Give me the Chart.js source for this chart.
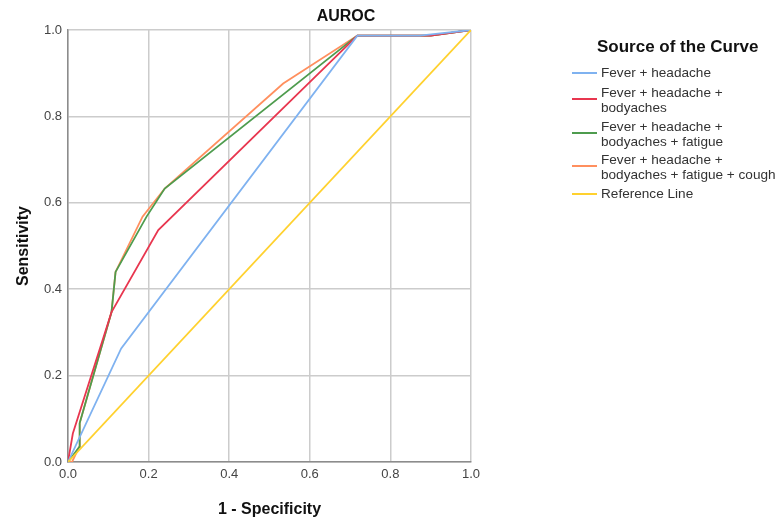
<!DOCTYPE html>
<html>
<head>
<meta charset="utf-8">
<script src="https://cdn.jsdelivr.net/npm/chart.js@4/dist/chart.umd.min.js"></script>
<style>
  html, body { margin: 0; padding: 0; background: #ffffff; }
  #wrap { width: 779px; height: 520px; position: relative; }
</style>
</head>
<body>
<div id="wrap"><canvas id="c" width="779" height="520"></canvas></div>
<script>
// ---- Data ----
const chartTitle = "AUROC";
const xAxisTitle = "1 - Specificity";
const yAxisTitle = "Sensitivity";
const legendTitle = "Source of the Curve";

const seriesNames = [
  "Fever + headache",
  "Fever + headache + bodyaches",
  "Fever + headache + bodyaches + fatigue",
  "Fever + headache + bodyaches + fatigue + cough",
  "Reference Line"
];
const legendLines = [
  ["Fever + headache"],
  ["Fever + headache +", "bodyaches"],
  ["Fever + headache +", "bodyaches + fatigue"],
  ["Fever + headache +", "bodyaches + fatigue + cough"],
  ["Reference Line"]
];
const seriesColors = ["#7FB2F0", "#E8364F", "#4E9C4E", "#FF8F5E", "#FFD12E"];

const headacheX = [0, 0.132, 0.718, 0.873, 1];
const headacheY = [0, 0.263, 0.987, 0.987, 1];

const bodyachesX = [0, 0.012, 0.108, 0.224, 0.718, 0.9, 1];
const bodyachesY = [0, 0.066, 0.347, 0.537, 0.987, 0.987, 1];

const fatigueX = [0, 0.028, 0.029, 0.108, 0.118, 0.195, 0.24, 0.718, 0.9, 1];
const fatigueY = [0, 0.035, 0.09, 0.347, 0.44, 0.568, 0.633, 0.987, 0.987, 1];

const coughX = [0, 0.01, 0.028, 0.029, 0.108, 0.118, 0.185, 0.24, 0.534, 0.718, 0.9, 1];
const coughY = [0, 0, 0.035, 0.09, 0.347, 0.44, 0.568, 0.633, 0.876, 0.987, 0.987, 1];

const referenceX = [0, 1];
const referenceY = [0, 1];

const xTicks = [0, 0.2, 0.4, 0.6, 0.8, 1.0];
const yTicks = [0, 0.2, 0.4, 0.6, 0.8, 1.0];

// ---- Build datasets ----
function pts(xs, ys) { return xs.map((x, i) => ({ x: x, y: ys[i] })); }
const allX = [headacheX, bodyachesX, fatigueX, coughX, referenceX];
const allY = [headacheY, bodyachesY, fatigueY, coughY, referenceY];
// draw order: reference first (bottom), then the curves
const order = [4, 0, 1, 2, 3];
const datasets = order.map(i => ({
  label: seriesNames[i],
  data: pts(allX[i], allY[i]),
  borderColor: seriesColors[i],
  backgroundColor: seriesColors[i],
  borderWidth: 1.8,
  showLine: true,
  pointRadius: 0,
  pointHoverRadius: 0,
  tension: 0,
  fill: false
}));

const FONT = "'Liberation Sans', Arial, sans-serif";

const decorPlugin = {
  id: 'decor',
  afterDraw(chart) {
    const ctx = chart.ctx;
    ctx.save();
    // chart title
    ctx.fillStyle = '#111111';
    ctx.font = "bold 16px " + FONT;
    ctx.textAlign = 'center';
    ctx.textBaseline = 'middle';
    ctx.fillText(chartTitle, 346, 17);

    // legend
    const lx = 572, lineLen = 25, tx = 601;
    ctx.font = "bold 17px " + FONT;
    ctx.textAlign = 'left';
    ctx.fillText(legendTitle, 597, 47);
    ctx.font = "13.6px " + FONT;
    const itemTops = [73, 93, 127, 160, 194];
    const lineGap = 15;
    for (let i = 0; i < legendLines.length; i++) {
      const lines = legendLines[i];
      const y0 = itemTops[i];
      const ly = lines.length > 1 ? y0 + 6 : y0;
      ctx.strokeStyle = seriesColors[i];
      ctx.lineWidth = 2;
      ctx.beginPath();
      ctx.moveTo(lx, ly);
      ctx.lineTo(lx + lineLen, ly);
      ctx.stroke();
      ctx.fillStyle = '#333333';
      lines.forEach((t, k) => ctx.fillText(t, tx, y0 + k * lineGap));
    }
    ctx.restore();
  }
};

new Chart(document.getElementById('c'), {
  type: 'scatter',
  data: { datasets: datasets },
  options: {
    responsive: false,
    animation: false,
    devicePixelRatio: 1,
    layout: { padding: { top: 30, right: 308, left: 0, bottom: 0 } },
    plugins: {
      legend: { display: false },
      title: { display: false },
      tooltip: { enabled: false }
    },
    scales: {
      x: {
        type: 'linear',
        min: 0, max: 1,
        afterFit(scale) { scale.height = 58; },
        afterBuildTicks(scale) { scale.ticks = xTicks.map(v => ({ value: v })); },
        ticks: {
          color: '#444444',
          font: { family: FONT, size: 13 },
          padding: 5,
          maxRotation: 0,
          callback: v => Number(v).toFixed(1)
        },
        grid: { color: '#cccccc', lineWidth: 1.5, drawTicks: false },
        border: { color: '#8c8c8c', width: 1.5 },
        title: {
          display: true,
          text: xAxisTitle,
          color: '#111111',
          font: { family: FONT, size: 16, weight: 'bold' },
          padding: { top: 0, bottom: 0.5 }
        }
      },
      y: {
        type: 'linear',
        min: 0, max: 1,
        afterFit(scale) { scale.width = 68; },
        afterBuildTicks(scale) { scale.ticks = yTicks.map(v => ({ value: v })); },
        ticks: {
          color: '#444444',
          font: { family: FONT, size: 13 },
          padding: 6,
          callback: v => Number(v).toFixed(1)
        },
        grid: { color: '#cccccc', lineWidth: 1.5, drawTicks: false },
        border: { color: '#8c8c8c', width: 1.5 },
        title: {
          display: true,
          text: yAxisTitle,
          color: '#111111',
          font: { family: FONT, size: 16, weight: 'bold' },
          padding: { top: 14.4, bottom: 0 }
        }
      }
    }
  },
  plugins: [decorPlugin]
});
</script>
</body>
</html>
